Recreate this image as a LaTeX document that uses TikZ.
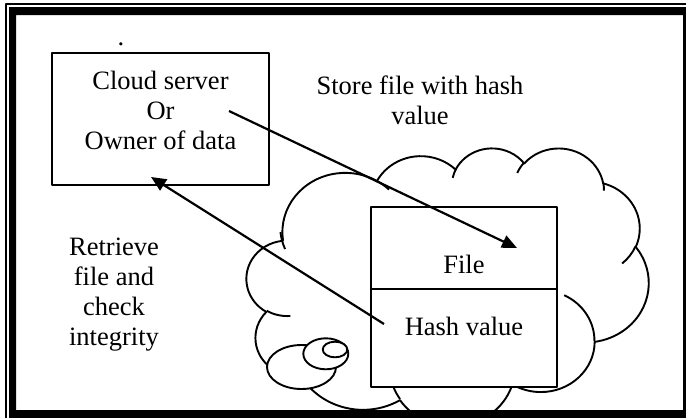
\documentclass[tikz,border=0pt]{standalone}
\usepackage{fontspec}
\setmainfont{Liberation Serif}
\usetikzlibrary{arrows.meta}

% arc given with OOXML-style visual angles -> TikZ parametric arc
\newcommand\prepArc[5]{%
  \pgfmathsetmacro\tmpa{atan2((#2)*sin(#4),(#3)*cos(#4))}%
  \pgfmathsetmacro\tmpb{atan2((#2)*sin((#4)+(#5)),(#3)*cos((#4)+(#5)))}%
  \pgfmathsetmacro\tmpc{(#5)+mod(\tmpb-\tmpa-(#5)+900,360)-180}%
  \xdef#1{arc[x radius=#2, y radius=#3, start angle=\tmpa, delta angle=\tmpc]}}

\prepArc\cA{675.3}{919.0}{-190.487}{123.7805}
\prepArc\cB{533.3}{726.7}{-144.1024}{89.9452}
\prepArc\cC{436.5}{594.5}{-145.8079}{99.7230}
\prepArc\cD{485.7}{659.5}{-130.9861}{117.2417}
\prepArc\cE{533.3}{727.3}{-78.7089}{109.0269}
\prepArc\cF{677.5}{922.0}{-46.2673}{130.269}
\prepArc\cG{578.5}{786.7}{0.625}{114.0333}
\prepArc\cH{675.2}{921.5}{22.4516}{115.1726}
\prepArc\cI{772.0}{1054.3}{66.2426}{75.7110}
\prepArc\cJ{436.0}{591.8}{-274.9421}{146.7356}
\prepArc\cK{434.5}{594.5}{-246.8285}{152.5189}

\prepArc\sA{434.5}{594.5}{86.742}{26.430}
\prepArc\sB{436.0}{591.8}{73.610}{11.447}
\prepArc\sC{675.2}{921.5}{137.624}{14.081}
\prepArc\sD{675.2}{921.5}{6.453}{15.998}
\prepArc\sE{578.5}{786.7}{-70.292}{70.917}
\prepArc\sF{533.3}{727.3}{30.318}{27.752}
\prepArc\sG{485.7}{659.5}{-13.744}{14.859}
\prepArc\sH{485.7}{659.5}{-149.181}{18.195}
\prepArc\sI{436.5}{594.5}{-163.494}{17.686}
\prepArc\sJ{675.3}{919.0}{-66.707}{12.319}
\prepArc\sK{675.3}{919.0}{150.086}{21.928}

\tikzset{
  cloudln/.style={line width=1.9pt},
  boxstyle/.style={draw, line width=2pt, fill=white, inner sep=0pt},
  txt/.style={font=\fontsize{26.5}{30}\selectfont, inner sep=0pt, align=center},
  lbl/.style={font=\fontsize{26.5}{30}\selectfont},
  arr/.style={line width=2.2pt, -{Triangle[length=15pt,width=13pt]}},
}

\begin{document}
\begin{tikzpicture}[x=1pt, y=-1pt, line join=round]
\useasboundingbox (0,0) rectangle (686,418);
\clip (0,0) rectangle (686,418);

% cloud
\begin{scope}[shift={(246.7,147.5)}, x=0.09303pt, y=-0.06435pt]
  \draw[cloudln, fill=white] (390,1437) \cA \cB \cC \cD \cE \cF \cG \cH \cI \cJ \cK -- cycle;
  \draw[cloudln] (469.3,2617.7) \sA;
  \draw[cloudln] (692.8,3489.9) \sB;
  \draw[cloudln] (1647.8,3909.0) \sC;
  \draw[cloudln] (2882.7,3475.1) \sD;
  \draw[cloudln] (3412.9,2295.4) \sE;
  \draw[cloudln] (4179.8,1535.4) \sF;
  \draw[cloudln] (3832.4,542.6) \sG;
  \draw[cloudln] (2907.8,395.2) \sH;
  \draw[cloudln] (2214.1,472.0) \sI;
  \draw[cloudln] (1400.0,519.2) \sJ;
  \draw[cloudln] (412.7,1578.9) \sK;
\end{scope}

% callout tail
\draw[cloudln, fill=white] (301.5,367) ellipse [x radius=34.5, y radius=22];
\draw[cloudln, fill=white] (325.8,353.8) ellipse [x radius=22.5, y radius=15.5];
\draw[cloudln, fill=white] (335,349.5) ellipse [x radius=12.3, y radius=7.8];

% storage box
\node[boxstyle, lbl, minimum width=186pt, text height=66pt, text depth=16pt, anchor=base] (file) at (464,273) {File};
\node[boxstyle, lbl, minimum width=186pt, text height=46pt, text depth=52pt, anchor=base] (hash) at (464,335) {Hash value};

% server box
\node[boxstyle, minimum width=217pt, minimum height=132pt] (server) at (160.5,119) {};
\node[txt] (servertxt) at (160.5,110) {Cloud server\\Or\\Owner of data};
\node[lbl, inner sep=0pt, anchor=base] (dot) at (121,45.5) {.};

% labels
\node[txt] (store) at (420,100) {Store file with hash\\value};
\node[txt] (retrieve) at (114,295) {Retrieve\\file and\\check\\integrity};

% arrows
\coordinate (a1s) at (229,111);
\coordinate (a1e) at (517,248);
\coordinate (a2s) at (384,324);
\coordinate (a2e) at (151,177);
\draw[arr] (a1s) -- (a1e);
\draw[arr] (a2s) -- (a2e);

% frame
\fill[even odd rule] (9,7) rectangle (700,430) (16,15) rectangle (683,410);
\draw[line width=1.6pt] (5.8,430) -- (5.8,4.2) -- (700,4.2);
\end{tikzpicture}
\end{document}
